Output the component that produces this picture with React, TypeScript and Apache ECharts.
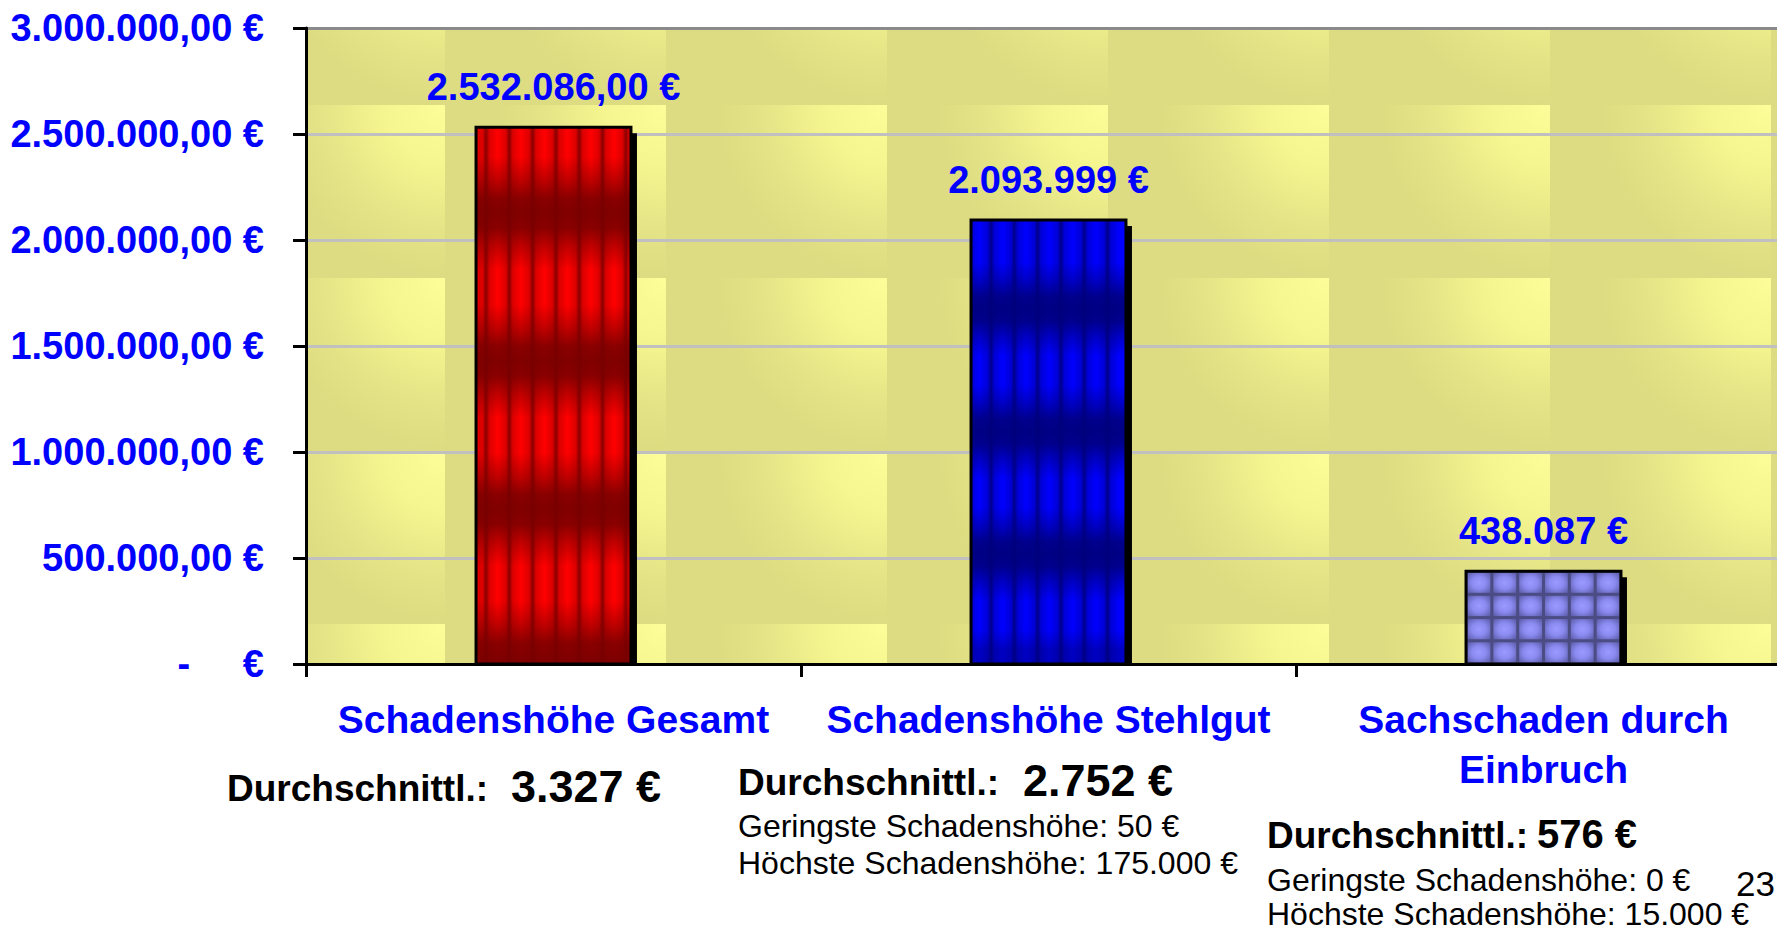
import React, { useEffect, useRef } from "react";
import * as echarts from "echarts";

// ---------- data ----------
const categories = ["Schadenshöhe Gesamt", "Schadenshöhe Stehlgut", "Sachschaden durch\nEinbruch"];
const values = [2532086, 2093999, 438087];
const valueLabels = ["2.532.086,00 €", "2.093.999 €", "438.087 €"];
const avgLabel = "Durchschnittl.:";
const averages = ["3.327 €", "2.752 €", "576 €"];
const minLabels = ["Geringste Schadenshöhe: 50 €", "Geringste Schadenshöhe: 0 €"];
const maxLabels = ["Höchste Schadenshöhe: 175.000 €", "Höchste Schadenshöhe: 15.000 €"];
const pageNumber = "23";
const Y_MIN = 0;
const Y_MAX = 3000000;
const Y_STEP = 500000;

// ---------- layout / style ----------
const W = 1777;
const H = 933;
const GRID_LEFT = 306;
const GRID_TOP = 28;
const GRID_W = 1485;
const GRID_H = 636;
const FONT = "Liberation Sans, Arial, sans-serif";
const BLUE = "#0000ff";
const BAR_RATIO = 0.313;

function fmtDE(v: number): string {
  const s = Math.round(v).toString();
  let out = "";
  for (let i = 0; i < s.length; i++) {
    if (i > 0 && (s.length - i) % 3 === 0) out += ".";
    out += s[i];
  }
  return out;
}

function yLabel(v: number): string {
  if (v === 0) return "-\u00a0\u00a0\u00a0\u00a0\u00a0€";
  return fmtDE(v) + ",00 €";
}

type BarStyle = {
  kind: "stripes" | "tiles";
  dark?: string;
  mid?: string;
  bright?: string;
  phase?: number;
  bandPhase?: number;
  bandRGB?: string;
};
const barStyles: BarStyle[] = [
  { kind: "stripes", dark: "#8a0000", mid: "#dc0000", bright: "#ff0000", phase: 10, bandPhase: 0.16, bandRGB: "118,0,0" },
  { kind: "stripes", dark: "#00008a", mid: "#0000d8", bright: "#0000ff", phase: 20, bandPhase: 0.2, bandRGB: "0,0,122" },
  { kind: "tiles" },
];

function stripeStops(w: number, st: BarStyle) {
  const P = 23.3;
  const stops: { offset: number; color: string }[] = [];
  for (let k = -2; k < w / P + 2; k++) {
    const d = (st.phase || 0) + k * P;
    const pts: [number, string][] = [
      [d, st.dark!],
      [d + 0.15 * P, st.mid!],
      [d + 0.5 * P, st.bright!],
      [d + 0.85 * P, st.mid!],
    ];
    for (const [p, c] of pts) {
      if (p >= 0 && p <= w) stops.push({ offset: p / w, color: c });
    }
  }
  stops.sort((a, b) => a.offset - b.offset);
  return stops;
}

function bandStops(h: number, st: BarStyle) {
  const P = h * 0.276;
  const first = h * (st.bandPhase || 0.18);
  const rgb = st.bandRGB || "0,0,0";
  const prof: [number, number][] = [
    [-0.38, 0],
    [-0.22, 0.45],
    [-0.1, 0.85],
    [0, 0.92],
    [0.1, 0.85],
    [0.22, 0.45],
    [0.38, 0],
  ];
  const stops: { offset: number; color: string }[] = [];
  for (let k = -1; k < h / P + 2; k++) {
    const c = first + k * P;
    for (const [dp, a] of prof) {
      const p = c + dp * P;
      if (p >= 0 && p <= h) stops.push({ offset: p / h, color: `rgba(${rgb},${a.toFixed(3)})` });
    }
  }
  stops.sort((a, b) => a.offset - b.offset);
  if (stops.length === 0) stops.push({ offset: 0, color: "rgba(0,0,0,0)" });
  return stops;
}

function buildBackground() {
  const TW = 221;
  const TH = 173;
  const x0 = 224;
  const y0 = -68;
  const right = Math.min(W, GRID_LEFT + GRID_W);
  const bottom = GRID_TOP + GRID_H;
  const els: any[] = [];
  for (let tx = x0; tx < right; tx += TW) {
    for (let ty = y0; ty < bottom; ty += TH) {
      const cx0 = Math.max(tx, GRID_LEFT);
      const cy0 = Math.max(ty, GRID_TOP);
      const cx1 = Math.min(tx + TW, right);
      const cy1 = Math.min(ty + TH, bottom);
      if (cx1 <= cx0 || cy1 <= cy0) continue;
      els.push({
        type: "rect",
        z: -10,
        silent: true,
        shape: { x: cx0, y: cy0, width: cx1 - cx0, height: cy1 - cy0 },
        style: {
          fill: {
            type: "radial",
            x: tx + TW,
            y: ty,
            r: 170,
            global: true,
            colorStops: [
              { offset: 0, color: "#fdfd99" },
              { offset: 0.35, color: "#f6f690" },
              { offset: 0.75, color: "#e4e386" },
              { offset: 1, color: "#dddc82" },
            ],
          },
        },
      });
    }
  }
  return els;
}

function txt(x: number, y: number, text: string, size: number, bold: boolean, color = "#000") {
  return {
    type: "text",
    z: 10,
    x,
    y,
    style: {
      text,
      fill: color,
      fontSize: size,
      fontWeight: bold ? "bold" : "normal",
      fontFamily: FONT,
      align: "left",
      verticalAlign: "middle",
      textAlign: "left",
      textVerticalAlign: "middle",
    },
  };
}

export default function App() {
  const ref = useRef<HTMLDivElement>(null);
  useEffect(() => {
    if (!ref.current) return;
    const chart = echarts.init(ref.current, undefined, { renderer: "svg" });

    const renderItem = (params: any, api: any) => {
      const idx = params.dataIndex;
      const v = api.value(1);
      const base = api.coord([idx, 0]);
      const top = api.coord([idx, v]);
      const catW = api.size([1, 0])[0];
      const w = catW * BAR_RATIO;
      const x = base[0] - w / 2;
      const y = top[1];
      const h = base[1] - top[1];
      const st = barStyles[idx];
      const children: any[] = [];
      children.push({
        type: "rect",
        shape: { x: x + 6, y: y + 6, width: w, height: h - 6 },
        style: { fill: "#000" },
      });
      if (st.kind === "stripes") {
        children.push({
          type: "rect",
          shape: { x, y, width: w, height: h },
          style: {
            fill: { type: "linear", x: 0, y: 0, x2: 1, y2: 0, colorStops: stripeStops(w, st) },
          },
        });
        children.push({
          type: "rect",
          shape: { x, y, width: w, height: h },
          style: {
            fill: { type: "linear", x: 0, y: 0, x2: 0, y2: 1, colorStops: bandStops(h, st) },
          },
        });
      } else {
        children.push({
          type: "rect",
          shape: { x, y, width: w, height: h },
          style: { fill: "#4c4c84" },
        });
        const cols = 6;
        const rows = Math.max(1, Math.round(h / 23));
        const cw = w / cols;
        const rh = h / rows;
        for (let r = 0; r < rows; r++) {
          for (let c = 0; c < cols; c++) {
            children.push({
              type: "rect",
              shape: { x: x + c * cw + 1.5, y: y + r * rh + 1.5, width: cw - 3, height: rh - 3 },
              style: {
                fill: {
                  type: "radial",
                  x: 0.5,
                  y: 0.5,
                  r: 0.7,
                  colorStops: [
                    { offset: 0, color: "#9a9aff" },
                    { offset: 0.45, color: "#8a8af0" },
                    { offset: 1, color: "#5a5aa6" },
                  ],
                },
              },
            });
          }
        }
      }
      children.push({
        type: "rect",
        shape: { x, y, width: w, height: h },
        style: { fill: "none", stroke: "#000", lineWidth: 3 },
      });
      children.push({
        type: "text",
        x: base[0],
        y: y - 40,
        style: {
          text: valueLabels[idx],
          fill: BLUE,
          fontSize: 38,
          fontWeight: "bold",
          fontFamily: FONT,
          align: "center",
          verticalAlign: "middle",
          textAlign: "center",
          textVerticalAlign: "middle",
        },
      });
      return { type: "group", children };
    };

    const splitColors = ["#c0c0c0", "#c0c0c0", "#c0c0c0", "#c0c0c0", "#c0c0c0", "#c0c0c0", "#8a8a8a"];

    const annotations = [
      txt(227, 788, avgLabel, 37, true),
      txt(511, 786, averages[0], 45, true),
      txt(738, 782, avgLabel, 37, true),
      txt(1023, 780, averages[1], 45, true),
      txt(738, 826, minLabels[0], 32, false),
      txt(738, 863, maxLabels[0], 32, false),
      txt(1267, 835, avgLabel, 37, true),
      txt(1537, 834, averages[2], 40, true),
      txt(1267, 880, minLabels[1], 32, false),
      txt(1267, 914, maxLabels[1], 32, false),
      txt(1736, 883, pageNumber, 35, false),
    ];

    chart.setOption({
      animation: false,
      backgroundColor: "#ffffff",
      grid: {
        left: GRID_LEFT,
        top: GRID_TOP,
        width: GRID_W,
        height: GRID_H,
        containLabel: false,
        outerBoundsMode: "none",
      },
      xAxis: {
        type: "category",
        data: categories,
        boundaryGap: true,
        axisLine: { show: true, lineStyle: { color: "#000", width: 3 } },
        axisTick: { show: true, length: 13, alignWithLabel: false, lineStyle: { color: "#000", width: 3 } },
        axisLabel: {
          interval: 0,
          color: BLUE,
          fontWeight: "bold",
          fontSize: 39,
          fontFamily: FONT,
          lineHeight: 50,
          margin: 30,
        },
        splitLine: { show: false },
      },
      yAxis: {
        type: "value",
        min: Y_MIN,
        max: Y_MAX,
        interval: Y_STEP,
        axisLine: { show: true, lineStyle: { color: "#000", width: 3 } },
        axisTick: { show: true, length: 13, lineStyle: { color: "#000", width: 3 } },
        axisLabel: {
          formatter: (v: number) => yLabel(v),
          color: BLUE,
          fontWeight: "bold",
          fontSize: 38,
          fontFamily: FONT,
          margin: 42,
        },
        splitLine: { show: true, lineStyle: { color: splitColors, width: 3 } },
      },
      graphic: { elements: [...buildBackground(), ...annotations] },
      series: [
        {
          type: "custom",
          renderItem,
          encode: { x: 0, y: 1 },
          clip: false,
          data: values.map((v, i) => [i, v]),
        },
      ],
    });
    return () => chart.dispose();
  }, []);
  return (
    <div
      ref={ref}
      style={{ position: "absolute", left: 0, top: 0, width: W, height: H, background: "#fff" }}
    />
  );
}
